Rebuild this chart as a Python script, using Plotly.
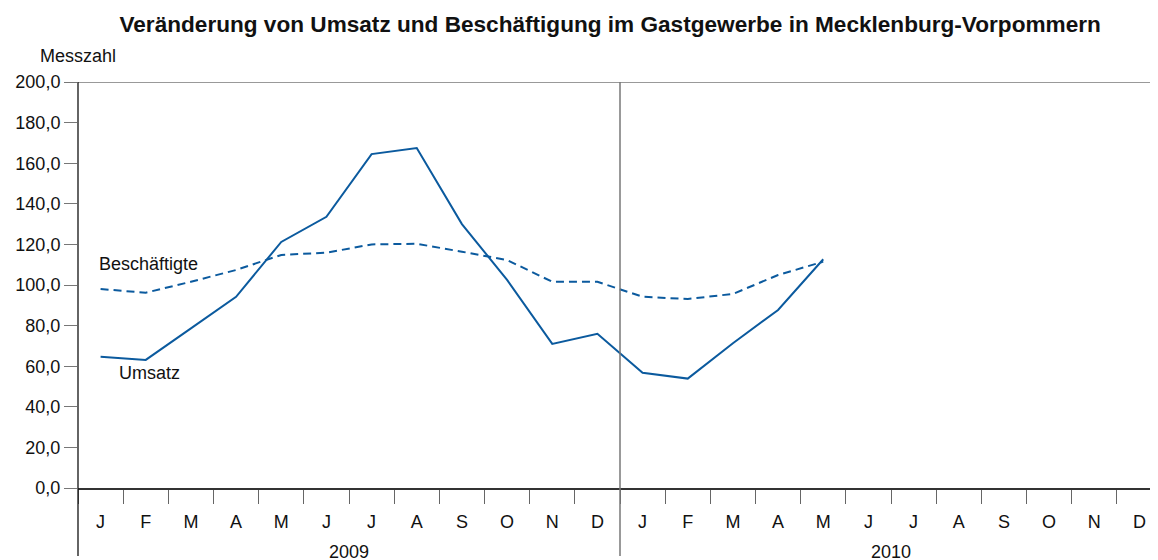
import plotly.graph_objects as go

months = ["J", "F", "M", "A", "M", "J", "J", "A", "S", "O", "N", "D"] * 2
years = ["2009", "2010"]
umsatz = [64.7, 63.1, 78.6, 94.2, 121.2, 133.6, 164.5, 167.5, 130.0, 102.5, 71.0, 76.0,
          56.8, 53.9, 71.3, 87.7, 112.7]
beschaeftigte = [98.0, 96.2, 101.6, 107.4, 114.8, 115.9, 120.0, 120.3, 116.4, 112.3, 101.6, 101.6,
                 94.2, 93.1, 95.6, 104.9, 111.5]

BLUE = "#0b5a9e"
FONT = "Liberation Sans, Arial, Helvetica, sans-serif"

xc = [i + 0.5 for i in range(len(months))]

fig = go.Figure()
fig.add_trace(go.Scatter(x=xc[:len(umsatz)], y=umsatz, mode="lines",
                         line=dict(color=BLUE, width=2), name="Umsatz"))
fig.add_trace(go.Scatter(x=xc[:len(beschaeftigte)], y=beschaeftigte, mode="lines",
                         line=dict(color=BLUE, width=2, dash="8px,5px"), name="Beschäftigte"))

# the page body has an 8px margin; layout is compensated for it
plot_h = 406
below = -68 / plot_h

fig.update_layout(
    width=1158, height=560,
    margin=dict(l=70, r=4, t=74, b=80),
    paper_bgcolor="white", plot_bgcolor="white",
    showlegend=False,
    separators=",.",
    font=dict(family=FONT, size=18, color="#111"),
    title=dict(text="<b>Veränderung von Umsatz und Beschäftigung im Gastgewerbe in Mecklenburg-Vorpommern</b>",
               x=0.520, xanchor="center", y=0.971, yanchor="middle",
               font=dict(family=FONT, size=22.6, color="#111")),
    xaxis=dict(range=[0, 24], tickmode="array", tickvals=xc, ticktext=months,
               ticks="outside", ticklen=17, tickcolor="rgba(0,0,0,0)",
               showgrid=False, zeroline=False, showline=True, linecolor="#333", linewidth=1.5,
               tickfont=dict(size=18),
               minor=dict(tick0=0, dtick=1, ticks="outside", ticklen=14, tickcolor="#666",
                          tickwidth=1, showgrid=False)),
    yaxis=dict(range=[0, 200], tickmode="linear", tick0=0, dtick=20, tickformat=".1f",
               ticks="outside", ticklen=13, tickcolor="#777", tickwidth=1.3,
               showgrid=False, zeroline=False, showline=False,
               tickfont=dict(size=18)),
)

# top line at 200
fig.add_shape(type="line", xref="paper", yref="y", x0=0, x1=1, y0=200, y1=200,
              line=dict(color="#777", width=1.5))
# y-axis line extended below
fig.add_shape(type="line", xref="paper", yref="paper", x0=0, x1=0, y0=below, y1=1,
              line=dict(color="#111", width=1.3))
# year divider
fig.add_shape(type="line", xref="x", yref="paper", x0=12, x1=12, y0=below, y1=1,
              line=dict(color="#777", width=1.5))

# year labels
for i, yr in enumerate(years):
    fig.add_annotation(x=6 + 12 * i, y=-64 / plot_h, xref="x", yref="paper", text=yr,
                       showarrow=False, yanchor="middle", font=dict(size=18))

# y-axis title
fig.add_annotation(x=-40 / 1084, y=1, xref="paper", yref="paper", text="Messzahl",
                   showarrow=False, xanchor="left", yanchor="middle", yshift=26,
                   font=dict(size=18))

# series labels
fig.add_annotation(x=0.43, y=110.5, xref="x", yref="y", text="Beschäftigte",
                   showarrow=False, xanchor="left", yanchor="middle", font=dict(size=18))
fig.add_annotation(x=0.87, y=56.5, xref="x", yref="y", text="Umsatz",
                   showarrow=False, xanchor="left", yanchor="middle", font=dict(size=18))

fig.write_html("out.html")
